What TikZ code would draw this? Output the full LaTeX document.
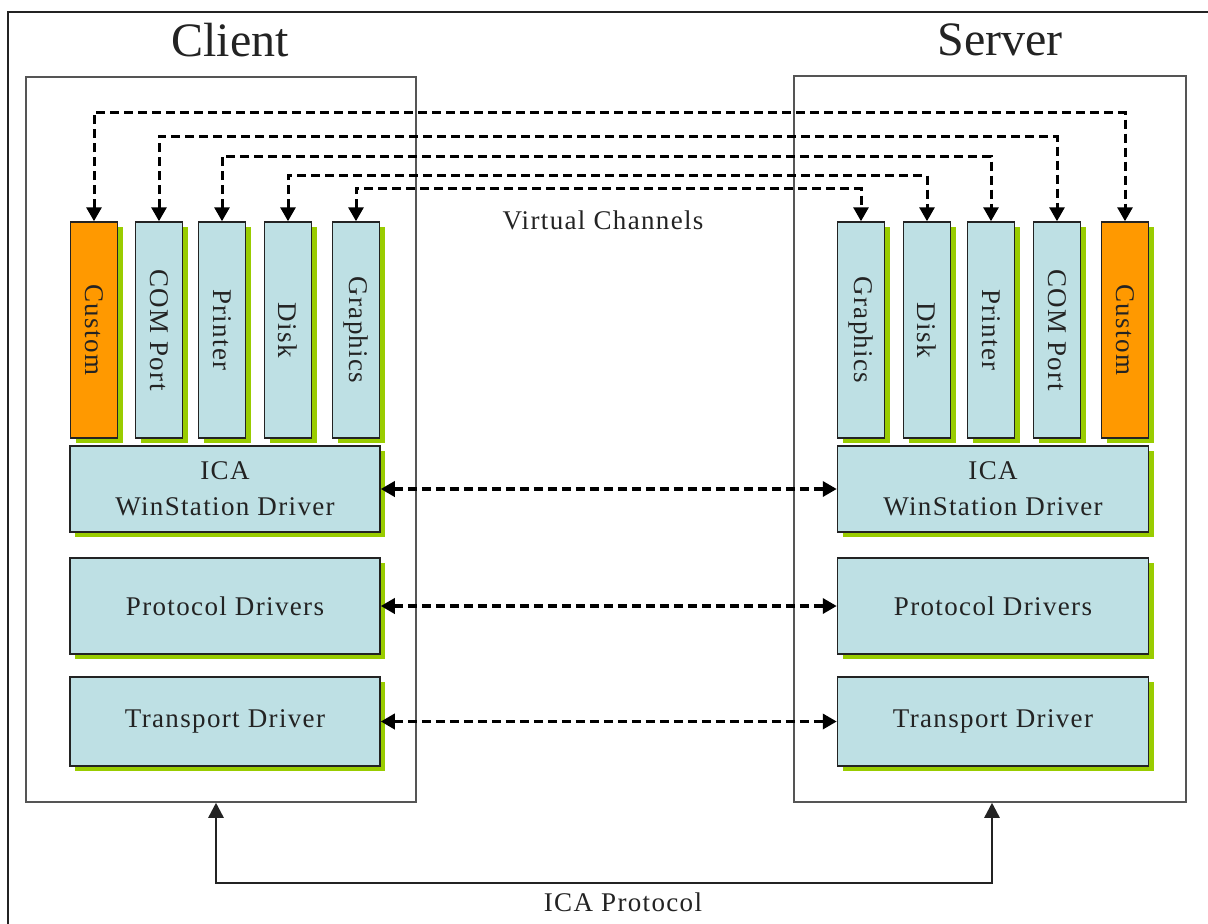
\documentclass[tikz,border=0pt]{standalone}
\usepackage{fontspec}
\setmainfont{Liberation Serif}
\newfontfamily\lblfont{Liberation Serif}[LetterSpace=5]
\usetikzlibrary{arrows.meta,shadows}

\definecolor{boxblue}{RGB}{190,224,228}
\definecolor{boxorange}{RGB}{255,153,0}
\definecolor{shadegreen}{RGB}{153,204,0}
\definecolor{inkgray}{RGB}{35,35,35}
\definecolor{framegray}{RGB}{85,85,85}

\tikzset{
  layer/.style={draw=inkgray, line width=1.5pt, fill=boxblue, inner sep=0pt,
    drop shadow={shadow xshift=5pt, shadow yshift=-5pt, fill=shadegreen, opacity=1},
    text=inkgray, align=center, font=\lblfont\fontsize{27}{36}\selectfont},
  chan/.style={layer, minimum width=47pt, minimum height=216pt},
  custom/.style={chan, fill=boxorange},
  side/.style={draw=framegray, line width=1.5pt},
  vline/.style={line width=3pt, draw=black, dash pattern=on 9pt off 5pt,
    {Triangle[width=15pt,length=14pt]}-{Triangle[width=15pt,length=14pt]}},
  ica/.style={line width=2.5pt, draw=inkgray,
    {Triangle[width=15pt,length=15pt]}-{Triangle[width=15pt,length=15pt]}},
  caption/.style={text=inkgray, font=\lblfont\fontsize{27}{32}\selectfont}
}

\begin{document}
\begin{tikzpicture}[x=1pt, y=-1pt]
    \useasboundingbox (0,0) rectangle (1208,924);
    \fill[white] (0,0) rectangle (1208,924);
    \draw[line width=2pt, draw=inkgray] (1208,12) -| (8,924);

    % Client and Server frames
    \node[side, minimum width=390pt, minimum height=725pt] (client) at (221,439.5) {};
    \node[side, minimum width=392pt, minimum height=726pt] (server) at (990,439) {};
    \node[text=inkgray, font=\fontsize{48}{56}\selectfont] (clientT) at (230,40) {Client};
    \node[text=inkgray, font=\fontsize{48}{56}\selectfont] (serverT) at (1000,40) {Server};

    % Client channels
    \node[custom] (cCus) at (94,330) {\rotatebox{-90}{Custom}};
    \node[chan] (cCom) at (159,330) {\rotatebox{-90}{COM Port}};
    \node[chan] (cPrn) at (222,330) {\rotatebox{-90}{Printer}};
    \node[chan] (cDsk) at (288,330) {\rotatebox{-90}{Disk}};
    \node[chan] (cGfx) at (356,330) {\rotatebox{-90}{Graphics}};

    % Server channels
    \node[chan] (sGfx) at (861,330) {\rotatebox{-90}{Graphics}};
    \node[chan] (sDsk) at (927,330) {\rotatebox{-90}{Disk}};
    \node[chan] (sPrn) at (991,330) {\rotatebox{-90}{Printer}};
    \node[chan] (sCom) at (1057,330) {\rotatebox{-90}{COM Port}};
    \node[custom] (sCus) at (1125,330) {\rotatebox{-90}{Custom}};

    % Driver layers
    \node[layer, minimum width=310pt, minimum height=86pt] (wsC) at (225,489) {ICA\\WinStation Driver};
    \node[layer, minimum width=311pt, minimum height=86pt] (wsS) at (993,489) {ICA\\WinStation Driver};
    \node[layer, minimum width=310pt, minimum height=96pt] (pdC) at (225,606) {Protocol Drivers};
    \node[layer, minimum width=311pt, minimum height=96pt] (pdS) at (993,606) {Protocol Drivers};
    \node[layer, minimum width=310pt, minimum height=89pt] (tdC) at (225,721.5) {Transport Driver};
    \node[layer, minimum width=311pt, minimum height=89pt] (tdS) at (993,721.5) {Transport Driver};

    % Virtual channels
    \draw[vline] (cCus.north) -- ++(0,-109) -| (sCus.north);
    \draw[vline] (cCom.north) -- ++(0,-85) -| (sCom.north);
    \draw[vline] (cPrn.north) -- ++(0,-65) -| (sPrn.north);
    \draw[vline] (cDsk.north) -- ++(0,-46) -| (sDsk.north);
    \draw[vline] (cGfx.north) -- ++(0,-33) -| (sGfx.north);
    \node[caption] (vchan) at (603,220) {Virtual Channels};

    % Layer to layer
    \draw[vline, line width=3.5pt] (wsC) -- (wsS);
    \draw[vline, line width=3.5pt] (pdC) -- (pdS);
    \draw[vline, line width=3.5pt] (tdC) -- (tdS);

    % ICA protocol
    \draw[ica] ([xshift=-5pt]client.south) -- ++(0,80) -| ([xshift=2pt]server.south);
    \node[caption] (proto) at (623,902) {ICA Protocol};
\end{tikzpicture}
\end{document}
